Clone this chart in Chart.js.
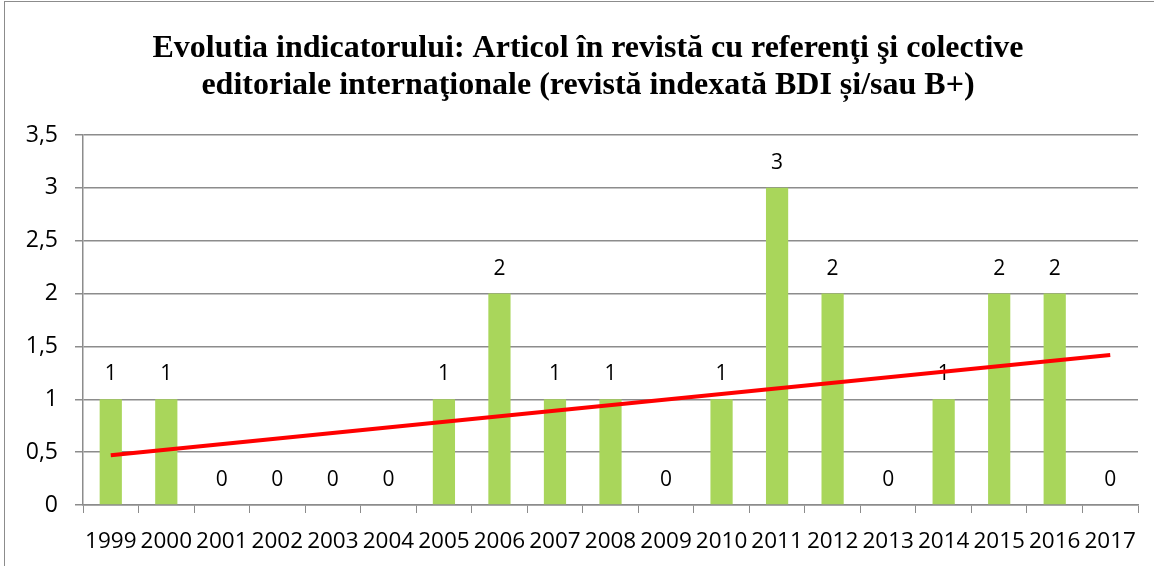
<!DOCTYPE html>
<html>
<head>
<meta charset="utf-8">
<script src="https://cdn.jsdelivr.net/npm/chart.js@4"></script>
<style>
  html, body { margin: 0; padding: 0; background: #fff; overflow: hidden; }
  #box { position: absolute; left: 4px; top: 1px; width: 1166px; height: 570px; border: 1px solid #8c8c8c; }
</style>
</head>
<body>
<div id="box"><canvas id="c" width="1166" height="570"></canvas></div>
<script>
const years = ["1999", "2000", "2001", "2002", "2003", "2004", "2005", "2006", "2007", "2008",
    "2009", "2010", "2011", "2012", "2013", "2014", "2015", "2016", "2017"];
const counts = [1, 1, 0, 0, 0, 0, 1, 2, 1, 1, 0, 1, 3, 2, 0, 1, 2, 2, 0];
// linear trend, ends
const trend = [0.47, null, null, null, null, null, null, null, null, null,
    null, null, null, null, null, null, null, null, 1.42];
const yLabels = ["0", "0,5", "1", "1,5", "2", "2,5", "3", "3,5"];
const titleLines = [
    "Evolutia indicatorului: Articol în revistă cu referenţi şi colective",
    "editoriale internaţionale (revistă indexată BDI și/sau B+)"
];

const GRID = "#8c8c8c";
const TICK_FONT = "'Open Sans', sans-serif";

// value labels above the bars, drawn before the trend line
const barLabels = {
    id: "barLabels",
    afterDatasetDraw(chart, args) {
        if (args.index !== 0) return;
        const ctx = chart.ctx;
        ctx.save();
        ctx.font = "21px " + TICK_FONT;
        ctx.fillStyle = "#000";
        ctx.textAlign = "center";
        ctx.textBaseline = "middle";
        args.meta.data.forEach((bar, i) => {
            ctx.fillText(String(counts[i]), bar.x, bar.y - 25);
        });
        ctx.restore();
    }
};

new Chart(document.getElementById("c"), {
    type: "bar",
    data: {
        labels: years,
        datasets: [
            {
                label: "Articole",
                data: counts,
                backgroundColor: "#a9d65b",
                barPercentage: 0.4,
                categoryPercentage: 1,
                order: 1
            },
            {
                type: "line",
                label: "Trend",
                data: trend,
                borderColor: "#ff0000",
                borderWidth: 4,
                pointRadius: 0,
                spanGaps: true,
                fill: false,
                order: 0
            }
        ]
    },
    options: {
        responsive: false,
        animation: false,
        layout: { padding: 0 },
        plugins: {
            legend: { display: false },
            tooltip: { enabled: false },
            title: {
                display: true,
                text: titleLines,
                color: "#000",
                font: { family: "'Liberation Serif', 'Times New Roman', serif", size: 32, weight: "bold", lineHeight: "37px" },
                padding: { top: 28, bottom: 31 }
            }
        },
        scales: {
            x: {
                grid: { drawOnChartArea: false, drawTicks: true, tickLength: 8, color: GRID, offset: true },
                border: { color: GRID, width: 1.5 },
                ticks: { color: "#000", font: { family: TICK_FONT, size: 22.5 }, padding: 15, autoSkip: false, maxRotation: 0 },
                afterFit(s) { s.height = 67; }
            },
            y: {
                min: 0,
                max: 3.5,
                ticks: {
                    stepSize: 0.5,
                    color: "#000",
                    font: { family: TICK_FONT, size: 23 },
                    padding: 17,
                    callback: (v, i) => yLabels[i]
                },
                grid: { color: GRID, lineWidth: 1.5, tickLength: 8 },
                border: { color: GRID, width: 1.5 },
                afterFit(s) { s.width = 78; }
            },
            // empty right-hand spacer so the plot ends where the picture's does
            yRight: {
                position: "right",
                min: 0,
                max: 1,
                grid: { display: false },
                border: { display: false },
                ticks: { display: false },
                afterFit(s) { s.width = 33; }
            }
        }
    },
    plugins: [barLabels]
});
</script>
</body>
</html>
